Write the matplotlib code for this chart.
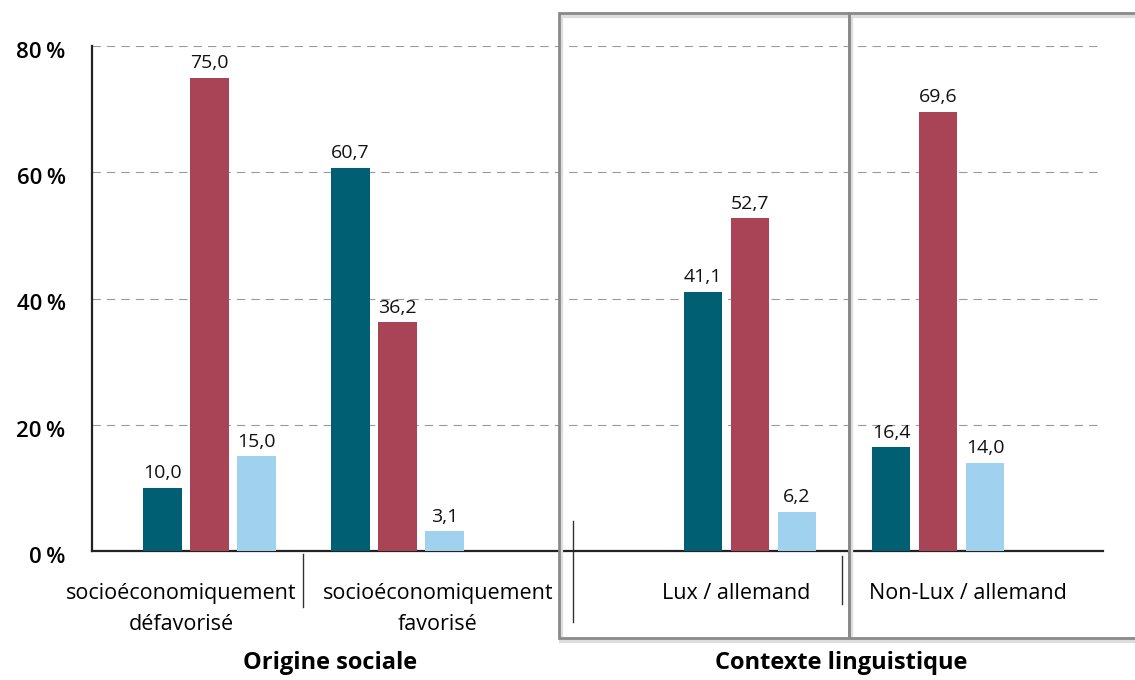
import matplotlib
matplotlib.use("Agg")
import matplotlib.pyplot as plt
import matplotlib.transforms as mtransforms
from matplotlib.patches import Rectangle

plt.rcParams['font.family'] = ['Open Sans', 'DejaVu Sans']

# données
categories = ["socioéconomiquement\ndéfavorisé", "socioéconomiquement\nfavorisé",
              "Lux / allemand", "Non-Lux / allemand"]
serie_1 = [10.0, 60.7, 41.1, 16.4]
serie_2 = [75.0, 36.2, 52.7, 69.6]
serie_3 = [15.0, 3.1, 6.2, 14.0]
groupes = ["Origine sociale", "Contexte linguistique"]
yticks = [0, 20, 40, 60, 80]

couleurs = ["#005f73", "#a94456", "#a0d2f0"]

# positions (en unités de "slot")
centres = [2.5, 6.5, 14.0, 18.0]
pos_labels = [1.9, 7.36, 13.7, 18.64]
separateurs = [(4.49, -0.006, -0.11), (10.23, 0.06, -0.14), (15.96, -0.01, -0.105)]
largeur = 0.81

fig = plt.figure(figsize=(11.35, 6.8), dpi=100)
ax = fig.add_axes([92/1135, 1-551/680, (1103-92)/1135, (551-46)/680])

for i, serie in enumerate([serie_1, serie_2, serie_3]):
    xs = [c + (i - 1) for c in centres]
    bars = ax.bar(xs, serie, width=largeur, color=couleurs[i], zorder=3)
    for b, v in zip(bars, serie):
        ax.text(b.get_x() + b.get_width()/2, v + 0.9, f"{v:.1f}".replace(".", ","),
                ha="center", va="bottom", fontsize=14, fontweight="medium",
                color="#111111")

ax.set_xlim(0, 21.51)
ax.set_ylim(0, 80)
ax.set_yticks(yticks)
ax.set_yticklabels([f"{t}\u2009%" for t in yticks], fontsize=16, fontweight="semibold")
ax.tick_params(axis="y", length=0, pad=19)
decal = mtransforms.ScaledTranslation(0, -4/100, fig.dpi_scale_trans)
for lab in ax.get_yticklabels():
    lab.set_transform(lab.get_transform() + decal)
ax.set_xticks([])
ax.yaxis.grid(True, color="#999999", linestyle=(0, (7.5, 5.5)), linewidth=0.8)
ax.set_axisbelow(True)
for s in ["top", "right"]:
    ax.spines[s].set_visible(False)
for s in ["left", "bottom"]:
    ax.spines[s].set_linewidth(1.6)
    ax.spines[s].set_color("#222222")

# étiquettes de catégories
for x, lab in zip(pos_labels, categories):
    ax.text(x, -5.0, lab, ha="center", va="top", fontsize=15.5,
            linespacing=1.68, transform=ax.transData, clip_on=False)

# traits verticaux de séparation
for x, y0, y1 in separateurs:
    ax.plot([x, x], [y0, y1], color="#333333", lw=1,
            transform=ax.get_xaxis_transform(), clip_on=False)

# cadres gris
for x0, w in [(559, 290), (849, 300)]:
    fig.patches.append(Rectangle((x0/1135 + 0.002, 1-638/680 - 0.004), w/1135, 625/680,
                                 transform=fig.transFigure, fill=False,
                                 edgecolor="#dddddd", lw=3, zorder=0))
    fig.patches.append(Rectangle((x0/1135, 1-638/680), w/1135, 625/680,
                                 transform=fig.transFigure, fill=False,
                                 edgecolor="#8a8a8a", lw=2, zorder=5))

# titres de groupes
fig.text(330/1135, 1-663/680, groupes[0], ha="center", va="center",
         fontsize=17, fontweight="bold")
fig.text(841/1135, 1-663/680, groupes[1], ha="center", va="center",
         fontsize=17, fontweight="bold")

fig.savefig("out.png", dpi=100)
